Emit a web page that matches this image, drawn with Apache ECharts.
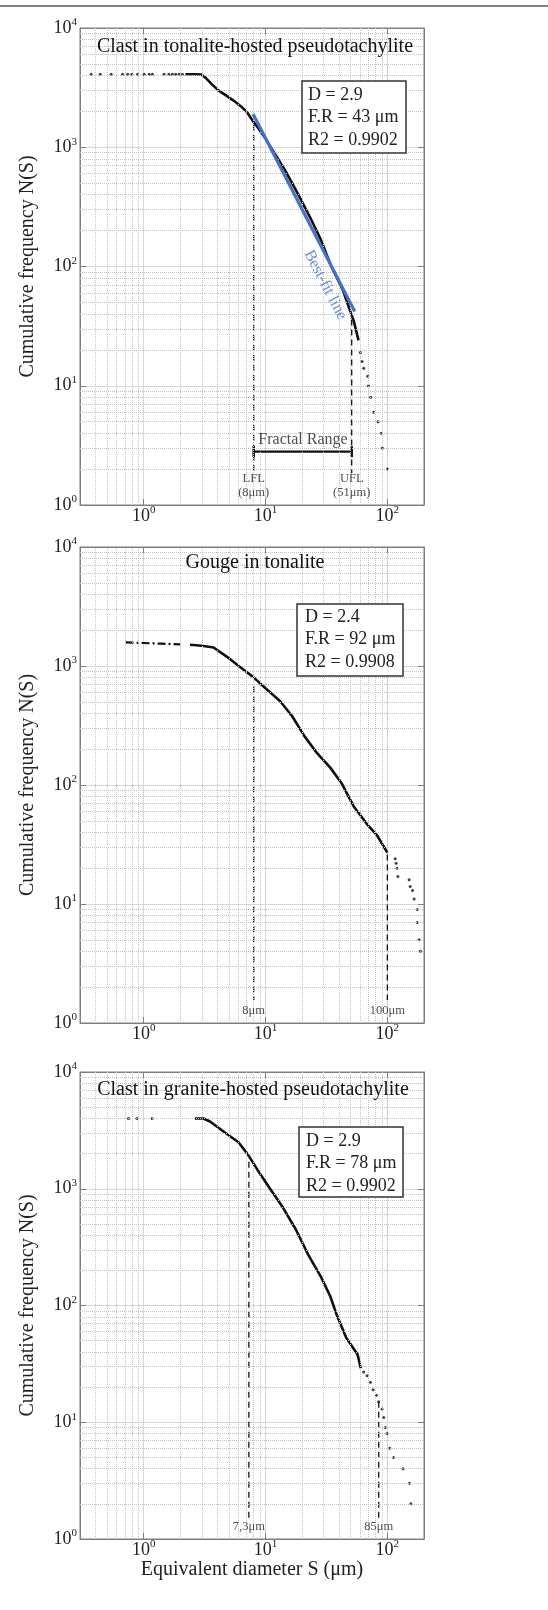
<!DOCTYPE html>
<html>
<head>
<meta charset="utf-8">
<script src="https://cdn.jsdelivr.net/npm/echarts@6/dist/echarts.min.js"></script>
<style>
  html, body { margin: 0; padding: 0; background: #fff; }
  #main { width: 548px; height: 1610px; }
</style>
</head>
<body>
<div id="main"></div>
<script>
// values
const xRange = [0.3, 200];
const yRange = [1, 10000];
const panelTitles = [
  'Clast in tonalite-hosted pseudotachylite',
  'Gouge in tonalite',
  'Clast in granite-hosted pseudotachylite'
];
const statLines = [
  ['D = 2.9', 'F.R = 43 μm', 'R2 = 0.9902'],
  ['D = 2.4', 'F.R = 92 μm', 'R2 = 0.9908'],
  ['D = 2.9', 'F.R = 78 μm', 'R2 = 0.9902']
];

// panel 1 : clast in tonalite-hosted pseudotachylite
const p1LeftSize = [0.37, 0.44, 0.54, 0.67, 0.74, 0.80, 0.89, 1.01, 1.11, 1.18, 1.47, 1.61, 1.72, 1.83, 1.95, 2.08];
const p1LeftCount = [4100, 4100, 4100, 4100, 4100, 4100, 4100, 4100, 4100, 4100, 4100, 4100, 4100, 4100, 4100, 4100];
const p1Size = [2.2, 2.6, 2.95, 3.2, 3.6, 4.1, 4.8, 5.5, 6.3, 7.1, 8.0, 8.5, 10.1, 12.1, 14.5, 18.5, 23.6, 28.3, 34, 43, 48.5, 53, 58];
const p1Count = [4100, 4100, 4080, 3850, 3400, 3000, 2700, 2450, 2200, 1950, 1620, 1500, 1165, 860, 640, 405, 250, 170, 105, 64, 45, 35, 24];
const p1TailSize = [60, 62, 64, 69, 70, 73, 77, 84, 89, 91, 100];
const p1TailCount = [19, 16, 14, 12, 10, 8, 6, 5, 4, 3, 2];
const p1FitSize = [7.9, 54];
const p1FitCount = [1900, 42];
const p1Limits = [8, 51];
const p1LimitTop = [1540, 36];
const p1RangeLevel = 2.8;

// panel 2 : gouge in tonalite
const p2HeadSize = [0.71, 1.0, 1.4, 2.0];
const p2HeadCount = [1580, 1560, 1540, 1520];
const p2Size = [2.4, 3.0, 3.75, 4.8, 6.1, 7.9, 10, 13.2, 16.5, 21, 26.5, 34, 42, 53, 68, 82, 100];
const p2Count = [1510, 1480, 1430, 1200, 990, 810, 650, 505, 380, 255, 185, 140, 104, 66, 47, 38, 27];
const p2TailSize = [116, 118, 120, 122, 151, 154, 161, 166, 176, 176, 182, 187];
const p2TailCount = [24, 22, 20, 17, 16, 14, 13, 11, 9, 7, 5, 4];
const p2Limits = [8, 100];
const p2LimitTop = [680, 26];

// panel 3 : clast in granite-hosted pseudotachylite
const p3LeftSize = [0.75, 0.88, 1.17];
const p3LeftCount = [4000, 4000, 4000];
const p3Size = [2.63, 3.1, 3.5, 4.7, 6.0, 7.2, 8.6, 10.9, 13.9, 17.7, 22.5, 28.6, 34, 38.6, 46, 57, 60.5];
const p3Count = [4000, 4000, 3770, 3000, 2500, 1950, 1450, 1000, 690, 450, 270, 175, 120, 82, 53, 38, 29];
const p3TailSize = [63.9, 68.2, 72.6, 76.4, 81.3, 84.9, 90.5, 93.3, 96.3, 99.5, 104.5, 112.6, 134.5, 152, 156];
const p3TailCount = [27, 25, 22, 19, 17, 15, 13, 11, 9, 8, 6, 5, 4, 3, 2];
const p3Limits = [7.3, 85];
const p3LimitTop = [1700, 15];

const serif = '"Liberation Serif", "DejaVu Serif", serif';
const gridTops = [28, 547, 1072];
const gridHeights = [477, 476, 467];
const dashBottom = [1.85, 1.56, 1.51];
const labelLevel = [1.44, 1.26, 1.27];
const blue = '#4472c4';

function zip(xs, ys) { return xs.map((x, i) => [x, ys[i]]); }

function powLabel(v) {
  const e = Math.log10(v);
  if (Math.abs(e - Math.round(e)) > 1e-6) return '';
  return '{b|10}{s|' + Math.round(e) + '}';
}
const powRich = {
  b: { fontSize: 18, fontFamily: serif, color: '#222', lineHeight: 22 },
  s: { fontSize: 11, fontFamily: serif, color: '#222', lineHeight: 10, verticalAlign: 'top' }
};

function minorMarks(key, lo, hi) {
  const out = [];
  for (let d = Math.floor(Math.log10(lo)); d <= Math.ceil(Math.log10(hi)); d++) {
    for (let m = 2; m <= 9; m++) {
      const v = m * Math.pow(10, d);
      if (v > lo * 1.0001 && v < hi * 0.9999) out.push({ [key]: v });
    }
  }
  return out;
}

const grids = [], xAxes = [], yAxes = [], series = [], titles = [];
const axisGray = '#7f7f7f';

for (let i = 0; i < 3; i++) {
  grids.push({ left: 80, width: 344, top: gridTops[i], height: gridHeights[i],
    show: true, borderColor: axisGray, borderWidth: 1 });
}
// bottom / left axes carry labels and major grid
for (let i = 0; i < 3; i++) {
  xAxes.push({
    type: 'log', logBase: 10, gridIndex: i, min: xRange[0], max: xRange[1], position: 'bottom',
    axisLine: { show: true, lineStyle: { color: axisGray } },
    axisTick: { inside: true, length: 6, lineStyle: { color: axisGray } },
    axisLabel: { formatter: powLabel, rich: powRich, margin: 0, showMinLabel: true, showMaxLabel: true },
    splitLine: { show: true, lineStyle: { color: '#d6d6d6', width: 1 } },
    name: i === 2 ? 'Equivalent diameter S (μm)' : '',
    nameLocation: 'middle', nameGap: 19,
    nameTextStyle: { fontFamily: serif, fontSize: 20, color: '#222' }
  });
  yAxes.push({
    type: 'log', logBase: 10, gridIndex: i, min: yRange[0], max: yRange[1], position: 'left',
    axisLine: { show: true, lineStyle: { color: axisGray } },
    axisTick: { inside: true, length: 6, lineStyle: { color: axisGray } },
    axisLabel: { formatter: powLabel, rich: powRich, margin: 3 },
    splitLine: { show: true, lineStyle: { color: '#d6d6d6', width: 1 } },
    name: 'Cumulative frequency N(S)', nameLocation: 'middle', nameGap: 42,
    nameTextStyle: { fontFamily: serif, fontSize: 20, color: '#222' }
  });
}
// top / right axes: ticks only, like a boxed plot
for (let i = 0; i < 3; i++) {
  xAxes.push({
    type: 'log', logBase: 10, gridIndex: i, min: xRange[0], max: xRange[1], position: 'top',
    axisLine: { show: true, lineStyle: { color: axisGray } },
    axisTick: { inside: true, length: 6, lineStyle: { color: axisGray } },
    axisLabel: { show: false }, splitLine: { show: false }
  });
  yAxes.push({
    type: 'log', logBase: 10, gridIndex: i, min: yRange[0], max: yRange[1], position: 'right',
    axisLine: { show: true, lineStyle: { color: axisGray } },
    axisTick: { inside: true, length: 6, lineStyle: { color: axisGray } },
    axisLabel: { show: false }, splitLine: { show: false }
  });
}

// minor (dotted) log grid
for (let i = 0; i < 3; i++) {
  series.push({
    type: 'line', xAxisIndex: i, yAxisIndex: i, data: [], z: 1, silent: true,
    markLine: {
      silent: true, symbol: 'none', label: { show: false }, animation: false,
      lineStyle: { color: '#c2c2c2', type: 'dotted', width: 1 },
      data: minorMarks('xAxis', xRange[0], xRange[1]).concat(minorMarks('yAxis', yRange[0], yRange[1]))
    }
  });
}

function curve(i, xs, ys, extra) {
  return Object.assign({
    type: 'line', xAxisIndex: i, yAxisIndex: i, data: zip(xs, ys),
    showSymbol: false, symbol: 'none', z: 4, silent: true,
    lineStyle: { color: '#111', width: 2.6 }
  }, extra || {});
}
function dots(i, xs, ys) {
  return {
    type: 'scatter', xAxisIndex: i, yAxisIndex: i, data: zip(xs, ys),
    symbolSize: 3, itemStyle: { color: '#111' }, z: 4, silent: true
  };
}
function dashed(i, x, top, bottom) {
  return {
    type: 'line', xAxisIndex: i, yAxisIndex: i, data: [[x, top], [x, bottom]],
    showSymbol: false, symbol: 'none', z: 3, silent: true,
    lineStyle: { color: '#111', width: 1.3, type: [6, 4] }
  };
}
function texts(i, items) {
  return {
    type: 'scatter', xAxisIndex: i, yAxisIndex: i, symbolSize: 0, z: 5, silent: true,
    data: items.map(t => ({
      value: t.at,
      label: Object.assign({
        show: true, position: 'inside', formatter: t.text,
        fontFamily: serif, fontSize: 12.5, lineHeight: 14, color: '#222'
      }, t.style || {})
    }))
  };
}

// panel 1
series.push(dots(0, p1LeftSize, p1LeftCount));
series.push(curve(0, p1Size, p1Count));
series.push(dots(0, p1TailSize, p1TailCount));
series.push(curve(0, p1FitSize, p1FitCount, { lineStyle: { color: blue, width: 3.2 }, z: 5 }));
p1Limits.forEach((x, k) => series.push(dashed(0, x, p1LimitTop[k], dashBottom[0])));
series.push({
  type: 'line', xAxisIndex: 0, yAxisIndex: 0, z: 4, silent: true,
  data: [[p1Limits[0], p1RangeLevel], [p1Limits[1], p1RangeLevel]],
  symbol: 'rect', symbolSize: [2.5, 11], showSymbol: true,
  itemStyle: { color: '#111' }, lineStyle: { color: '#111', width: 2.2 }
});
series.push(texts(0, [
  { at: [p1Limits[0], labelLevel[0]], text: 'LFL\n(8μm)' },
  { at: [p1Limits[1], labelLevel[0]], text: 'UFL\n(51μm)' },
  { at: [20.3, 3.55], text: 'Fractal Range', style: { fontSize: 16, color: '#222' } },
  { at: [31, 70], text: 'Best-fit line', style: { fontSize: 16, color: blue, rotate: -62.7 } }
]));

// panel 2
series.push(curve(1, p2HeadSize, p2HeadCount, { lineStyle: { color: '#111', width: 2.2, type: [8, 3, 2, 3] } }));
series.push(curve(1, p2Size, p2Count));
series.push(dots(1, p2TailSize, p2TailCount));
p2Limits.forEach((x, k) => series.push(dashed(1, x, p2LimitTop[k], dashBottom[1])));
series.push(texts(1, [
  { at: [p2Limits[0], labelLevel[1]], text: '8μm' },
  { at: [p2Limits[1], labelLevel[1]], text: '100μm' }
]));

// panel 3
series.push(dots(2, p3LeftSize, p3LeftCount));
series.push(curve(2, p3Size, p3Count));
series.push(dots(2, p3TailSize, p3TailCount));
p3Limits.forEach((x, k) => series.push(dashed(2, x, p3LimitTop[k], dashBottom[2])));
series.push(texts(2, [
  { at: [p3Limits[0], labelLevel[2]], text: '7,3μm' },
  { at: [p3Limits[1], labelLevel[2]], text: '85μm' }
]));

// titles inside the plots
const titleCenters = [[255, 37], [255, 553], [253, 1080]];
for (let i = 0; i < 3; i++) {
  titles.push({
    text: panelTitles[i], left: titleCenters[i][0], top: titleCenters[i][1], textAlign: 'center', padding: 0,
    textStyle: { fontFamily: serif, fontSize: 20, fontWeight: 'normal', color: '#111' }
  });
}

// statistics boxes
const boxRects = [[302, 81, 104, 72], [297, 604, 106, 72], [299, 1127, 104, 70]];
const boxText = [[308, 84], [305, 606], [306, 1130]];
const graphic = [{
  type: 'line', shape: { x1: 0, y1: 6, x2: 548, y2: 6 }, style: { stroke: '#555', lineWidth: 1.5 }
}];
for (let i = 0; i < 3; i++) {
  const r = boxRects[i];
  graphic.push({
    type: 'rect', z: 10, shape: { x: r[0], y: r[1], width: r[2], height: r[3] },
    style: { fill: '#fff', stroke: '#333', lineWidth: 1.5 }
  });
  graphic.push({
    type: 'text', z: 11, x: boxText[i][0], y: boxText[i][1],
    style: { text: statLines[i].join('\n'), fontFamily: serif, fontSize: 18, lineHeight: 22.5, fill: '#222' }
  });
}

const chart = echarts.init(document.getElementById('main'));
chart.setOption({
  animation: false,
  backgroundColor: '#fff',
  title: titles,
  grid: grids,
  xAxis: xAxes,
  yAxis: yAxes,
  series: series,
  graphic: graphic
});
</script>
</body>
</html>
